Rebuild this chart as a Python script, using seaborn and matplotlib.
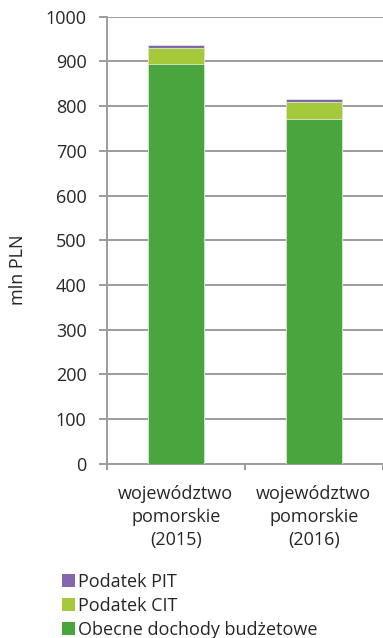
import matplotlib
matplotlib.use("Agg")
import matplotlib.pyplot as plt
import seaborn as sns
import pandas as pd
import numpy as np
from matplotlib.patches import Patch

categories = ["województwo\npomorskie\n(2015)", "województwo\npomorskie\n(2016)"]
obecne = [895, 772]
cit = [36, 38]
pit = [6, 6]
series_names = ["Podatek PIT", "Podatek CIT", "Obecne dochody budżetowe"]
colors = {"Obecne dochody budżetowe": "#49a53e", "Podatek CIT": "#a6c93c", "Podatek PIT": "#8466b0"}
yticks = [0, 100, 200, 300, 400, 500, 600, 700, 800, 900, 1000]

sns.set_style("white")
plt.rcParams['font.family'] = ['Open Sans', 'DejaVu Sans']
FS = 13
GRID = "#9c9c9c"

fig = plt.figure(figsize=(3.83, 6.38), dpi=100)
ax = fig.add_axes([0.2786, 0.2732, 0.7206, 0.7006])

df = pd.DataFrame({"cat": categories, "obecne": obecne, "cit": cit, "pit": pit})
df["s3"] = df["obecne"] + df["cit"] + df["pit"]
df["s2"] = df["obecne"] + df["cit"]
df["s1"] = df["obecne"]

for col, name in [("s3", "Podatek PIT"), ("s2", "Podatek CIT"), ("s1", "Obecne dochody budżetowe")]:
    sns.barplot(data=df, x="cat", y=col, color=colors[name], width=0.405, ax=ax,
                saturation=1, edgecolor="#dcebd2", linewidth=0.6, zorder=3)

ax.set_ylim(0, 1000)
ax.set_xlim(-0.5, 1.5)
ax.set_yticks(yticks)
ax.set_yticklabels([str(t) for t in yticks], fontsize=FS)
ax.yaxis.grid(True, color=GRID, linewidth=1.4, zorder=0)
ax.set_axisbelow(True)
ax.set_xlabel("")
ax.set_ylabel("")
ax.set_xticks([0, 1])
ax.set_xticklabels(categories, fontsize=FS, linespacing=1.36)
ax.tick_params(axis="x", length=0, pad=15)
ax.tick_params(axis="y", length=5.5, width=1.4, color=GRID, direction="out", left=True, pad=9)
ax.set_xticks([-0.5, 0.5, 1.5], minor=True)
ax.tick_params(axis="x", which="minor", length=4.5, width=1.4, color=GRID, direction="out", bottom=True)

for s in ["top", "right"]:
    ax.spines[s].set_visible(False)
for s in ["left", "bottom"]:
    ax.spines[s].set_color(GRID)
    ax.spines[s].set_linewidth(1.4)

fig.text(18 / 383, 1 - 270 / 638, "mln PLN", rotation=90, ha="center", va="center", fontsize=FS)

handles = [Patch(facecolor=colors[n], edgecolor="none") for n in series_names]
fig.legend(handles, series_names, loc="upper left", bbox_to_anchor=(0.162, 0.102),
           frameon=False, fontsize=FS, handlelength=0.72, handleheight=0.72,
           handletextpad=0.18, labelspacing=0.33, borderaxespad=0, borderpad=0)

fig.savefig("out.png", dpi=100)
